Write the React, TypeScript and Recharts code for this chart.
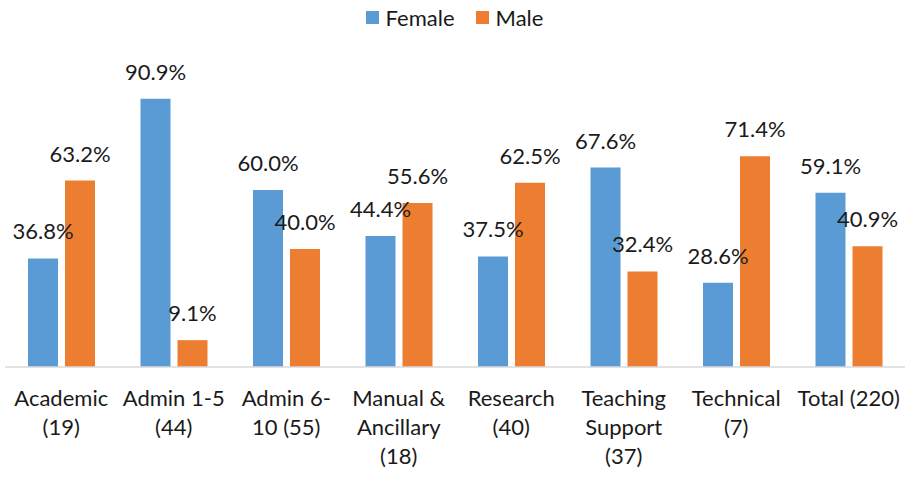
import React from 'react';
import { BarChart, Bar, XAxis, YAxis, Legend, LabelList } from 'recharts';

const categories = [
    'Academic\n(19)',
    'Admin 1-5\n(44)',
    'Admin 6-\n10 (55)',
    'Manual &\nAncillary\n(18)',
    'Research\n(40)',
    'Teaching\nSupport\n(37)',
    'Technical\n(7)',
    'Total (220)',
];
const female = [36.8, 90.9, 60.0, 44.4, 37.5, 67.6, 28.6, 59.1];
const male = [63.2, 9.1, 40.0, 55.6, 62.5, 32.4, 71.4, 40.9];

const data = categories.map((name, i) => ({ name, female: female[i], male: male[i] }));

const FONT = 'Lato, "Open Sans", sans-serif';
const BLUE = '#5B9BD5';
const ORANGE = '#ED7D31';

const CategoryTick = (props: any) => {
    const { x, y, payload } = props;
    const lines = String(payload.value).split('\n');
    return (
        <text x={x} y={y} textAnchor="middle" fill="#1a1a1a" fontSize={22} fontFamily={FONT}>
            {lines.map((l, i) => (
                <tspan key={i} x={x} dy={i === 0 ? 39 : 29}>{l}</tspan>
            ))}
        </text>
    );
};

const LegendBox = (props: any) => {
    const { payload } = props;
    return (
        <div style={{ display: 'flex', justifyContent: 'center', gap: 21, fontFamily: FONT, fontSize: 22, color: '#1a1a1a', height: 25 }}>
            {payload.map((p: any) => (
                <div key={p.value} style={{ display: 'flex', alignItems: 'center' }}>
                    <span style={{ width: 13, height: 13, background: p.color, display: 'inline-block', marginRight: 7 }} />
                    <span>{p.value}</span>
                </div>
            ))}
        </div>
    );
};

const fmt = (v: any) => Number(v).toFixed(1) + '%';

const App = () => {
    return (
        <>
            <style>{`body{margin:0}`}</style>
            <BarChart
                width={909}
                height={477}
                data={data}
                margin={{ top: 47, right: 4, left: 5, bottom: 0 }}
                barSize={30}
                barGap={7}
            >
                <XAxis
                    dataKey="name"
                    height={110}
                    tickLine={false}
                    tickSize={0}
                    tickMargin={0}
                    interval={0}
                    stroke="#d9d9d9"
                    strokeWidth={1.5}
                    tick={<CategoryTick />}
                />
                <YAxis hide domain={[0, 100]} />
                <Legend
                    verticalAlign="top"
                    content={<LegendBox />}
                    wrapperStyle={{ top: 5, left: 0, width: 909 }}
                />
                <Bar dataKey="female" name="Female" fill={BLUE} isAnimationActive={false}>
                    <LabelList dataKey="female" position="top" offset={19} formatter={fmt} fill="#1a1a1a" fontSize={22} fontFamily={FONT} />
                </Bar>
                <Bar dataKey="male" name="Male" fill={ORANGE} isAnimationActive={false}>
                    <LabelList dataKey="male" position="top" offset={19} formatter={fmt} fill="#1a1a1a" fontSize={22} fontFamily={FONT} />
                </Bar>
            </BarChart>
        </>
    );
};

export default App;
